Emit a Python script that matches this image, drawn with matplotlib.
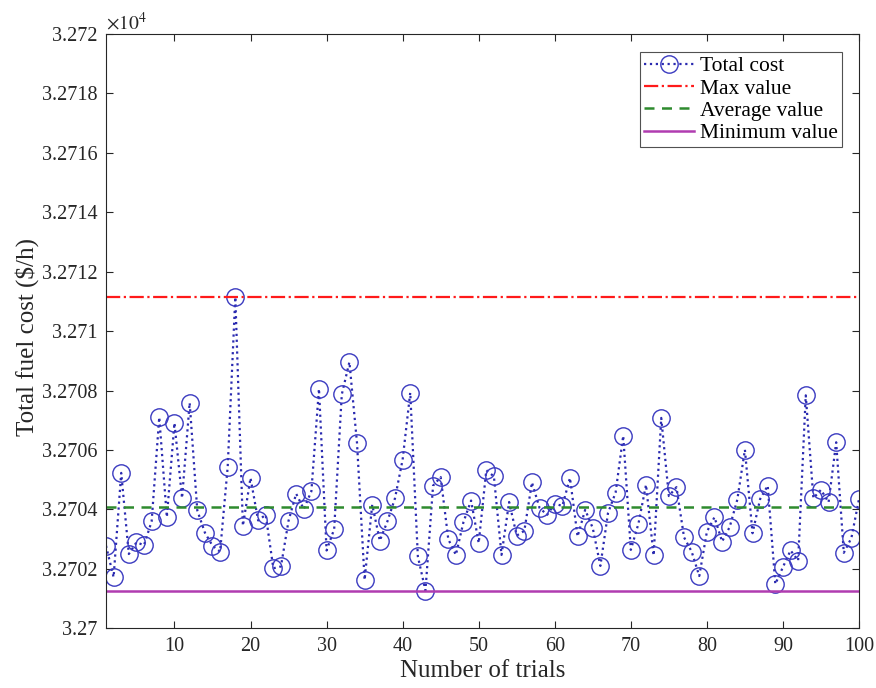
import matplotlib
matplotlib.use("Agg")
import matplotlib.pyplot as plt

trials = list(range(1, 101))
total_cost = [
    32702.78, 32701.72, 32705.23, 32702.50, 32702.89, 32702.80, 32703.60, 32707.10, 32703.74, 32706.91,
    32704.38, 32707.59, 32703.97, 32703.22, 32702.78, 32702.58, 32705.43, 32711.15, 32703.45, 32705.06,
    32703.63, 32703.82, 32702.02, 32702.08, 32703.62, 32704.53, 32704.01, 32704.61, 32708.06, 32702.62,
    32703.34, 32707.87, 32708.96, 32706.24, 32701.63, 32704.16, 32702.95, 32703.60, 32704.38, 32705.68,
    32707.93, 32702.42, 32701.27, 32704.80, 32705.09, 32703.00, 32702.47, 32703.58, 32704.30, 32702.87,
    32705.32, 32705.11, 32702.47, 32704.25, 32703.12, 32703.28, 32704.91, 32704.05, 32703.82, 32704.19,
    32704.12, 32705.06, 32703.09, 32703.99, 32703.37, 32702.10, 32703.88, 32704.57, 32706.48, 32702.64,
    32703.52, 32704.83, 32702.45, 32707.08, 32704.45, 32704.75, 32703.06, 32702.58, 32701.76, 32703.25,
    32703.74, 32702.92, 32703.41, 32704.33, 32706.01, 32703.20, 32704.35, 32704.80, 32701.49, 32702.06,
    32702.62, 32702.28, 32707.84, 32704.38, 32704.66, 32704.24, 32706.26, 32702.54, 32703.04, 32704.35,
]
max_value = 32711.15
average_value = 32704.08
minimum_value = 32701.27

x_ticks = [10, 20, 30, 40, 50, 60, 70, 80, 90, 100]
y_ticks = [32700, 32702, 32704, 32706, 32708, 32710, 32712, 32714, 32716, 32718, 32720]
y_tick_labels = ["3.27", "3.2702", "3.2704", "3.2706", "3.2708", "3.271",
                 "3.2712", "3.2714", "3.2716", "3.2718", "3.272"]

plt.rcParams['font.family'] = ['Liberation Serif', 'DejaVu Serif']
plt.rcParams['mathtext.fontset'] = 'stix'

fig = plt.figure(figsize=(8.76, 6.88), dpi=100)
ax = fig.add_axes([106 / 876, 1 - 628.3 / 688, 753 / 876, 594.3 / 688])

ax.plot(trials, total_cost, linestyle=':', color='#2a2ab0', linewidth=1.6,
        marker='o', markersize=12.5, markerfacecolor='none', markeredgecolor='#3a3ac0',
        markeredgewidth=1.0, label='Total cost')
ax.axhline(max_value, color='#ff1a1a', linestyle='-.', linewidth=1.6, label='Max value')
ax.axhline(average_value, color='#2e8b2e', linestyle='--', linewidth=1.8, dashes=(4, 3),
           label='Average value')
ax.axhline(minimum_value, color='#b03cb0', linestyle='-', linewidth=1.8, label='Minimum value')

ax.set_xlim(1, 100)
ax.set_ylim(32700, 32720)
ax.set_xticks(x_ticks)
ax.set_yticks(y_ticks)
ax.set_yticklabels(y_tick_labels)
ax.tick_params(direction='in', length=5, width=0.8, top=True, right=True,
               labelsize=14.5, colors='#262626', pad=6)
for s in ax.spines.values():
    s.set_color('#262626')
    s.set_linewidth(0.8)

ax.set_xlabel('Number of trials', fontsize=18, color='#262626', labelpad=3)
ax.set_ylabel('Total fuel cost ($/h)', fontsize=18, color='#262626')
ax.yaxis.label.set_va('center')
ax.yaxis.set_label_coords(-0.105, 0.49)
ax.text(0.0, 1.0, r'$\times10^{4}$', transform=ax.transAxes, fontsize=14,
        color='#262626', ha='left', va='bottom')

leg = ax.legend(loc='upper right', bbox_to_anchor=(0.9774, 0.9697), borderaxespad=0,
                fontsize=15.5, labelspacing=0.1, handlelength=2.35, handletextpad=0.25,
                borderpad=0.2, frameon=True, fancybox=False, edgecolor='#262626')
leg.get_frame().set_linewidth(0.8)

fig.savefig('out.png', dpi=100)
